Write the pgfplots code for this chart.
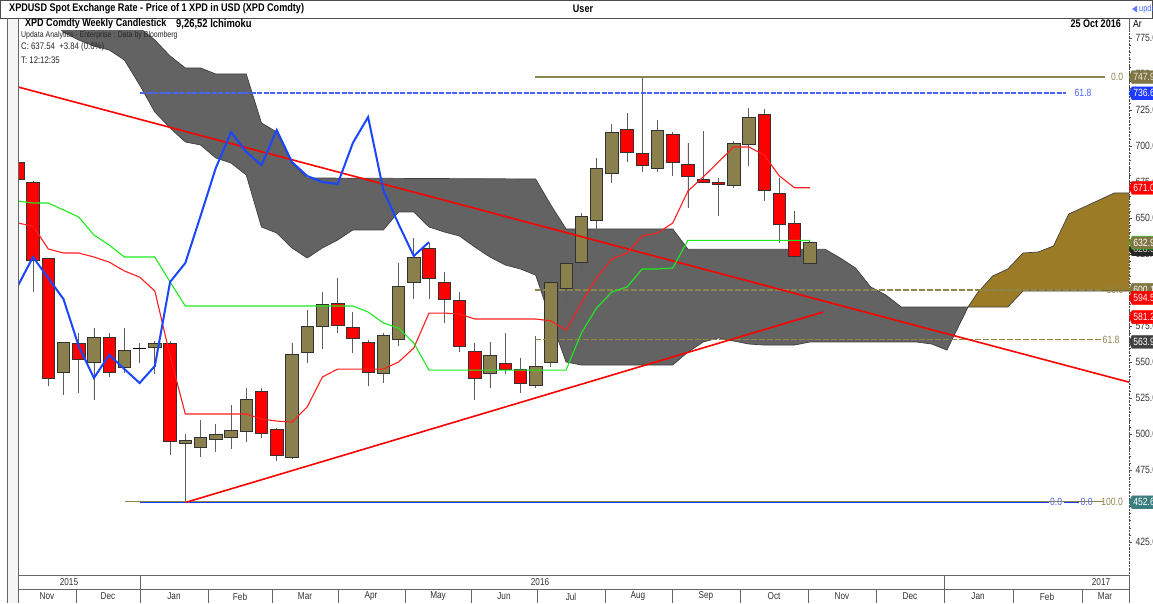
\documentclass[border=0pt]{standalone}
\usepackage{pgfplots}
\pgfplotsset{compat=1.18}
\usepgfplotslibrary{statistics}
\usepackage{fontspec}
\setmainfont{Liberation Sans}
\newfontfamily\nar[FakeStretch=0.82]{Liberation Sans}
\definecolor{cred}{RGB}{255,0,0}
\definecolor{colive}{RGB}{138,128,78}
\definecolor{cedge}{RGB}{50,50,50}
\definecolor{cwick}{RGB}{95,95,95}
\definecolor{ccloud}{RGB}{99,99,99}
\definecolor{cbrown}{RGB}{155,123,38}
\definecolor{cblue}{RGB}{25,70,255}
\definecolor{cbluefib}{RGB}{30,60,255}
\definecolor{cbluedash}{RGB}{70,100,255}
\definecolor{cgreen}{RGB}{30,235,30}
\definecolor{ctenkan}{RGB}{255,30,30}
\definecolor{cfib}{RGB}{140,134,78}
\definecolor{ctagol}{RGB}{128,118,68}
\definecolor{cteal}{RGB}{60,125,128}
\pgfplotsset{boxplot/draw direction=y,
  boxplot/every whisker/.style={draw=cwick, line width=0.8pt},
  boxplot/box extend=0.82, boxplot/whisker extend=0}
\newcommand\cR[5]{\addplot[draw=cedge, fill=cred, line width=0.7pt, boxplot prepared={draw position=#1, lower whisker=#4, lower quartile=#5, median=#5, upper quartile=#2, upper whisker=#3}] coordinates {};}
\newcommand\cG[5]{\addplot[draw=cedge, fill=colive, line width=0.7pt, boxplot prepared={draw position=#1, lower whisker=#4, lower quartile=#2, median=#2, upper quartile=#5, upper whisker=#3}] coordinates {};}
\newcommand\cD[5]{\addplot[draw=black, fill=black, line width=1pt, boxplot prepared={draw position=#1, lower whisker=#4, lower quartile=#2, median=#2, upper quartile=#5, upper whisker=#3}] coordinates {};}
\newcommand\ptag[5]{\filldraw[fill=#2, draw=#3] (#1) -- ++(3pt,6.5pt) -- ++(40pt,0) -- ++(0,-13pt) -- ++(-40pt,0) -- cycle;
  \node[anchor=west, inner sep=0pt, text=#4, font=\nar\fontsize{10.5}{11}\selectfont] at ([xshift=4pt]#1) {#5};}
\begin{document}
\begin{tikzpicture}[x=1pt,y=1pt]
\path[use as bounding box] (0,0) rectangle (1153,603);
\fill[white] (0,0) rectangle (1153,603);
\fill[black!4] (7,0) rectangle (18,585);
\begin{axis}[
 at={(18pt,28pt)}, anchor=south west, scale only axis, width=1111pt, height=544pt,
 xmin=1.015, xmax=73.96, ymin=402.1, ymax=779.86,
 axis x line=none, axis y line*=right,
 y axis line style={black!70, densely dotted},
 ytick={425,450,...,775}, minor y tick num=4,
 tick align=outside, major tick length=3pt, minor tick length=1.5pt,
 tick style={black!70},
 yticklabel style={font=\nar\fontsize{10.5}{12}\selectfont, text=black!80,
   /pgf/number format/fixed, /pgf/number format/fixed zerofill,
   /pgf/number format/precision=1, /pgf/number format/assume math mode=true},
 scaled y ticks=false,
]
% Ichimoku cloud (bearish part)
\addplot[fill=ccloud, draw=black!75, line width=0.7pt] coordinates {
(1,790) (8,790) (9,782) (10,773.6) (11,762.5) (12,754.2) (13,754.2) (14,750.0) (16,750.0) (17,716.0) (18,709.7) (19,688.2) (20,677.8) (35,677.1) (36,659.0) (37,642.4) (44,642.4) (45,628.3) (54,628.3) (55,622.2) (56,615.3) (57,602.1) (58,596.5) (59,588.2) (63.39,588.2)
(62,558.3) (61,562.5) (60,563.9) (53,563.9) (52,561.8) (50,561.8) (49,562.5) (48,564.6) (47,566.7) (46,563.9) (45,556.9) (44,547.9) (38,547.9) (37,550.0) (36,579.2) (35,610.4) (34,614.6) (33,617.4) (32,622.9) (31,629.9) (30,637.5) (29,640.3) (28,643.75) (27,654.2) (26,654.2) (25,641.7) (23,641.7) (22,634.7) (21,629.2) (20,622.2) (19,629.2) (18,639.6) (17,643.75) (16,679.9) (15,688.2) (14,691.7) (13,700.7) (12,702.8) (11,712.5) (10,723.6) (9,742.4) (8,759.7) (7,766.7) (6,769.4) (5,773.6) (4,779.0) (3,790)
} -- cycle;
% Ichimoku cloud (bullish part, projected)
\addplot[fill=cbrown, draw=black!75, line width=0.7pt] coordinates {
(63.39,588.2) (64,597.9) (65,609.7) (66,614.6) (67,625.7) (68,626.4) (69,630.6) (70,652.8) (71,657.6) (72,662.5) (73,667.4) (75,667.4) (75,599.3) (67,599.3) (66,588.2)
} -- cycle;
% candles: index, open, high, low, close
\cR{1}{688.9}{691.7}{675.0}{677.1}
\cR{2}{675.0}{675.7}{598.6}{620.8}
\cR{3}{622.2}{622.2}{533.3}{538.9}
\cG{4}{543.1}{563.9}{527.1}{563.9}
\cR{5}{563.2}{570.1}{528.5}{552.1}
\cG{6}{550.0}{573.6}{523.6}{567.4}
\cR{7}{567.4}{570.1}{539.6}{543.1}
\cG{8}{546.5}{573.6}{542.4}{558.3}
\cD{9}{559.7}{563.2}{549.3}{559.7}
\cG{10}{560.4}{564.6}{541.7}{563.2}
\cR{11}{563.2}{564.6}{485.4}{495.1}
\cG{12}{493.75}{500.0}{452.6}{495.8}
\cG{13}{491.0}{509.7}{484.0}{497.9}
\cG{14}{496.5}{506.9}{487.5}{500.0}
\cG{15}{497.9}{520.1}{489.6}{502.8}
\cG{16}{502.1}{531.9}{494.4}{524.3}
\cR{17}{529.9}{531.9}{497.2}{500.7}
\cR{18}{503.5}{504.2}{481.25}{485.4}
\cG{19}{484.0}{563.2}{482.6}{555.6}
\cG{20}{556.9}{586.1}{549.3}{575.0}
\cG{21}{575.0}{598.6}{559.0}{590.3}
\cR{22}{591.0}{608.3}{570.1}{575.7}
\cR{23}{574.3}{584.7}{556.25}{566.7}
\cR{24}{563.9}{565.3}{533.3}{543.1}
\cG{25}{542.4}{570.1}{535.4}{568.75}
\cG{26}{566.0}{618.75}{561.1}{602.8}
\cG{27}{605.6}{636.1}{593.75}{622.9}
\cR{28}{629.2}{632.6}{593.75}{608.3}
\cR{29}{605.6}{612.5}{577.1}{593.75}
\cR{30}{593.1}{598.6}{556.9}{561.1}
\cR{31}{557.6}{563.2}{523.6}{538.9}
\cG{32}{542.4}{563.9}{531.9}{554.9}
\cR{33}{549.3}{570.1}{541.7}{545.1}
\cR{34}{545.1}{552.8}{528.5}{535.4}
\cG{35}{534.0}{568.1}{531.9}{547.2}
\cG{36}{550.0}{606.9}{546.5}{605.6}
\cG{37}{601.4}{620.1}{591.0}{618.75}
\cG{38}{619.4}{653.5}{612.5}{651.4}
\cG{39}{648.6}{691.7}{631.9}{684.7}
\cG{40}{681.25}{715.3}{674.3}{709.7}
\cR{41}{711.8}{722.9}{688.9}{695.8}
\cR{42}{695.1}{747.9}{681.9}{686.8}
\cG{43}{684.7}{718.1}{681.9}{711.1}
\cR{44}{708.3}{709.7}{679.2}{688.9}
\cR{45}{687.5}{702.1}{656.9}{679.2}
\cR{46}{677.1}{710.4}{674.3}{675.0}
\cR{47}{675.0}{677.8}{651.4}{673.6}
\cG{48}{672.9}{703.5}{670.8}{702.1}
\cG{49}{701.4}{726.4}{686.1}{720.1}
\cR{50}{722.2}{725.7}{661.8}{669.4}
\cR{51}{667.4}{677.8}{632.6}{645.8}
\cR{52}{646.5}{654.9}{616.0}{623.6}
\cG{53}{618.75}{634.0}{616.7}{633.3}
% Fibonacci levels
\addplot[cfib, line width=1.3pt] coordinates {(34.96,747.9) (72.39,747.9)};
\addplot[draw=cfib, dash pattern=on 6pt off 2pt, line width=1.3pt] coordinates {(34.96,600.1) (72.2,600.1)};
\addplot[draw=cfib, dash pattern=on 6pt off 2pt, line width=1.3pt] coordinates {(34.96,565.4) (72.26,565.4)};
\addplot[cfib, line width=1pt] coordinates {(8.04,453.1) (72.3,453.1)};
\addplot[draw=cbluedash, dash pattern=on 5pt off 1.5pt, line width=1.6pt] coordinates {(9.03,736.6) (69.8,736.6)};
\addplot[cbluefib, line width=1.3pt] coordinates {(9.03,452.6) (68.7,452.6)};
\addplot[cbluefib, line width=1.3pt] coordinates {(69.7,452.6) (70.7,452.6)};
\node[text=cbluefib!80, font=\nar\fontsize{10.5}{11}\selectfont, inner sep=0pt] at (axis cs:70.94,736.6) {61.8};
\node[text=cfib, font=\nar\fontsize{10.5}{11}\selectfont, inner sep=0pt] at (axis cs:73.18,747.9) {0.0};
\node[text=cfib, font=\nar\fontsize{10.5}{11}\selectfont, inner sep=0pt] at (axis cs:73.04,600.1) {50.0};
\node[text=cfib, font=\nar\fontsize{10.5}{11}\selectfont, inner sep=0pt] at (axis cs:72.78,565.4) {61.8};
\node[text=cbluefib!80, font=\nar\fontsize{10.5}{11}\selectfont, inner sep=0pt] at (axis cs:69.17,452.6) {0.0};
\node[text=cbluefib!80, font=\nar\fontsize{10.5}{11}\selectfont, inner sep=0pt] at (axis cs:71.17,452.6) {0.0};
\node[text=cfib, font=\nar\fontsize{10.5}{11}\selectfont, inner sep=0pt] at (axis cs:72.85,452.6) {100.0};
% trendlines
\addplot[cred, line width=1.6pt] coordinates {(1.015,741.0) (73.96,536.0)};
\addplot[cred, line width=1.6pt] coordinates {(12.05,452.6) (53.87,584.7)};
% Tenkan (9)
\addplot[ctenkan, line width=1.1pt] coordinates {
(1,646.5) (2,644.4) (3,628.5) (4,625.7) (5,625.7) (6,622.9) (7,619.4) (8,613.2) (9,609.0) (10,599.3) (11,554.2) (12,513.9) (13,513.9) (14,513.9) (15,513.9) (16,513.9) (17,510.4) (18,509.0) (19,508.3) (20,518.75) (21,539.6) (22,545.1) (23,545.1) (24,545.1) (25,545.1) (26,550.0) (27,559.7) (28,584.0) (29,584.0) (30,583.3) (31,579.9) (32,579.9) (33,579.9) (34,579.9) (35,579.9) (36,578.5) (37,572.2) (38,591.0) (39,608.3) (40,621.5) (41,625.7) (42,637.5) (43,639.6) (44,646.5) (45,668.75) (46,678.5) (47,688.9) (48,699.3) (49,699.3) (50,693.75) (51,679.2) (52,671.0) (53,671.0)};
% Kijun (26)
\addplot[cgreen, line width=1.1pt] coordinates {
(1,661.8) (2,660.4) (3,660.4) (4,655.6) (5,650.7) (6,638.2) (7,631.25) (8,622.9) (9,622.9) (10,622.9) (11,605.6) (12,588.9) (23,588.9) (24,584.7) (25,577.1) (26,573.6) (27,563.2) (28,544.4) (37,544.4) (38,570.1) (39,587.5) (40,598.6) (41,602.1) (42,614.6) (43,614.6) (44,615.3) (45,634.5) (53,634.5)};
% Chikou (lagging close)
\addplot[cblue, line width=2pt] coordinates {
(1,602.8) (2,622.9) (3,608.3) (4,593.75) (5,561.1) (6,538.9) (7,554.9) (8,545.1) (9,535.4) (10,547.2) (11,605.6) (12,618.75) (13,651.4) (14,684.7) (15,709.7) (16,695.8) (17,686.8) (18,711.1) (19,688.9) (20,679.2) (21,675.0) (22,673.6) (23,702.1) (24,720.1) (25,669.4) (26,645.8) (27,623.6) (28,633.3)};
\coordinate (t1) at (axis cs:73.96,747.9);
\coordinate (t2) at (axis cs:73.96,736.6);
\coordinate (t3) at (axis cs:73.96,671.0);
\coordinate (t4) at (axis cs:73.96,632.9);
\coordinate (t5) at (axis cs:73.96,628.3);
\coordinate (t6) at (axis cs:73.96,600.1);
\coordinate (t7) at (axis cs:73.96,594.5);
\coordinate (t8) at (axis cs:73.96,581.2);
\coordinate (t9) at (axis cs:73.96,563.9);
\coordinate (t10) at (axis cs:73.96,452.6);
\end{axis}
% value tags on the price axis
\ptag{t1}{ctagol}{ctagol}{black!10}{747.9}
\ptag{t2}{cbluefib}{cbluefib}{white}{736.6}
\ptag{t3}{cred}{cred}{white}{671.0}
\ptag{t5}{black!85}{black!85}{black!15}{628.3}
\ptag{t4}{ctagol}{cgreen}{white}{632.9}
\ptag{t6}{ctagol}{ctagol}{white}{600.1}
\ptag{t7}{cred}{cred}{white}{594.5}
\ptag{t8}{cred}{cred}{white}{581.2}
\ptag{t9}{black!75}{black!75}{white}{563.9}
\ptag{t10}{cteal}{cteal}{white}{452.6}
% frame and header
\draw[black!70] (0.5,585) rectangle (1152.5,602.5);
\draw[black!60] (7,0) -- (7,585);
\draw[black!60] (18,0) -- (18,585);
\draw[black!60] (1129,572) -- (1129,585);
\draw[black!60] (1129,0) -- (1129,28);
\node[anchor=west, font=\nar\bfseries\fontsize{11.1}{12}\selectfont, inner sep=0pt] at (9,594) {XPDUSD Spot Exchange Rate - Price of 1 XPD in USD (XPD Comdty)};
\node[font=\nar\bfseries\fontsize{11}{12}\selectfont, inner sep=0pt] at (583,594) {User};
\fill[cblue!70] (1132,594) -- (1137,597.5) -- (1137,590.5) -- cycle;
\node[anchor=west, font=\nar\fontsize{9}{10}\selectfont, text=cblue!80, inner sep=0pt] at (1139,594) {updates};
\node[anchor=west, font=\nar\bfseries\fontsize{11}{12}\selectfont, inner sep=0pt] at (25,579) {XPD Comdty Weekly Candlestick};
\node[anchor=west, font=\nar\bfseries\fontsize{11.5}{12}\selectfont, inner sep=0pt] at (176,579) {9,26,52 Ichimoku};
\node[anchor=east, font=\nar\bfseries\fontsize{11}{12}\selectfont, inner sep=0pt] at (1121,579) {25 Oct 2016};
\node[anchor=west, font=\nar\fontsize{10.5}{12}\selectfont, inner sep=0pt] at (1133,579) {Ar};
\node[anchor=west, font=\nar\fontsize{8.5}{9}\selectfont, text=black!85, inner sep=0pt] at (21,568) {Updata Analytics - Enterprise : Data by Bloomberg};
\node[anchor=west, font=\nar\fontsize{9.5}{10}\selectfont, text=black!85, inner sep=0pt] at (21,556) {C: 637.54\ \ +3.84 (0.6\%)};
\node[anchor=west, font=\nar\fontsize{9.5}{10}\selectfont, text=black!85, inner sep=0pt] at (21,543) {T: 12:12:35};
% calendar axis
\draw[black!60] (18,28) -- (1129,28);
\draw[black!60] (18,14) -- (1129,14);
\foreach \xx in {140,944} {\draw[black!60] (\xx,0) -- (\xx,28);}
\foreach \xx in {76,208,272,338,405,471,537,605,672,740,808,876,1013,1082} {\draw[black!60] (\xx,0) -- (\xx,14);}
\foreach \xx/\lab in {69/2015,540/2016,1101/2017} {\node[font=\nar\fontsize{10}{11}\selectfont, text=black!80, inner sep=0pt] at (\xx,21) {\lab};}
\foreach \xx/\lab in {47/Nov,108/Dec,174/Jan,240/Feb,305/Mar,371/Apr,438/May,504/Jun,571/Jul,638/Aug,706/Sep,774/Oct,842/Nov,910/Dec,978/Jan,1047/Feb,1105/Mar} {\node[font=\nar\fontsize{10}{11}\selectfont, text=black!80, inner sep=0pt] at (\xx,6.5) {\lab};}
\end{tikzpicture}
\end{document}
